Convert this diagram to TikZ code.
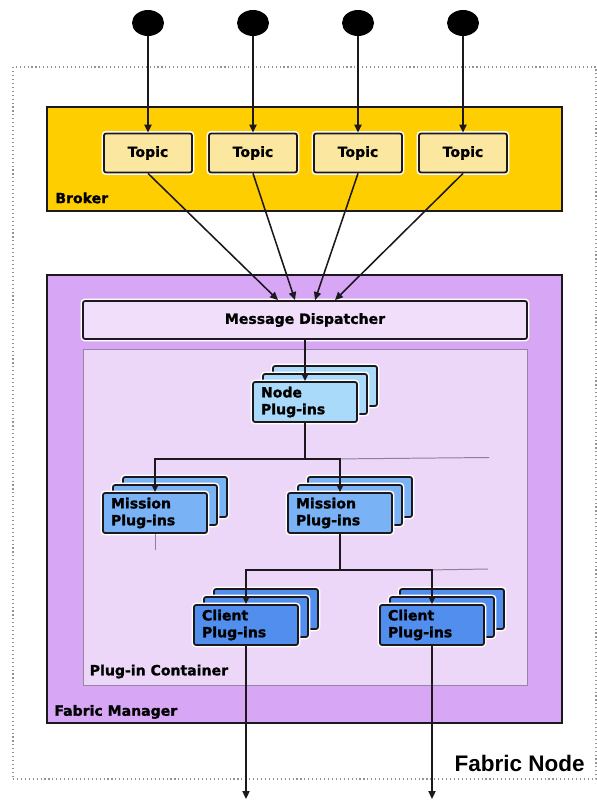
\documentclass[tikz,border=0pt]{standalone}
\usepackage{fontspec}
\setmainfont[BoldFeatures={FakeBold=1.2}]{DejaVu Sans}
\newfontfamily\titlefont{Liberation Sans}
\usetikzlibrary{positioning, calc, shapes.geometric, arrows.meta}

\newlength{\pxl}
\setlength{\pxl}{0.025cm}

\definecolor{boxline}{RGB}{28,24,30}
\definecolor{brokeryellow}{RGB}{255,206,0}
\definecolor{topicfill}{RGB}{252,231,160}
\definecolor{fmpurple}{RGB}{215,167,245}
\definecolor{dispfill}{RGB}{240,222,250}
\definecolor{contfill}{RGB}{236,215,248}
\definecolor{contline}{RGB}{150,135,160}
\definecolor{nodeblue}{RGB}{170,218,250}
\definecolor{missionblue}{RGB}{122,178,246}
\definecolor{clientblue}{RGB}{82,142,238}
\definecolor{ghostline}{RGB}{140,130,150}

\tikzset{
  txt/.style={font=\bfseries\fontsize{10}{12}\selectfont},
  halo/.style={preaction={draw=white, line width=3.4pt}},
  frame/.style={draw=boxline, line width=1.3pt, inner sep=0pt},
  topicbox/.style={frame, halo, fill=topicfill, rounded corners=1.5pt, txt,
    minimum width=88\pxl, minimum height=39\pxl},
  plug/.style={frame, halo, rounded corners=1.5pt, txt, align=left,
    minimum width=104\pxl, minimum height=40\pxl, text width=88\pxl},
  src/.style={ellipse, fill=black, inner sep=0pt,
    minimum width=32\pxl, minimum height=26\pxl},
  lbl/.style={txt, inner sep=0pt, anchor=west},
  arr/.style={draw=boxline, line width=1.1pt, -{Triangle[length=2mm, width=1.8mm]}},
  line/.style={draw=boxline, line width=1.1pt},
  ghost/.style={draw=ghostline, line width=0.7pt}
}

\begin{document}
\begin{tikzpicture}[x=0.025cm, y=-0.025cm]
    \useasboundingbox (0,0) rectangle (597,801);

    %Fabric node
    \node[draw=gray!85, dotted, line width=0.8pt, minimum width=583\pxl, minimum height=712\pxl] (fnode) at (304.5,423) {};
    \node[anchor=east, inner sep=0pt, font=\titlefont\bfseries\fontsize{16}{18}\selectfont] (fnodelbl) at (585,763) {Fabric Node};

    %Broker
    \node[frame, fill=brokeryellow, minimum width=515\pxl, minimum height=104\pxl] (broker) at (304.5,159) {};
    \node[lbl] (brokerlbl) at ($(broker.south west)+(9,-14)$) {Broker};

    %Fabric manager
    \node[frame, fill=fmpurple, minimum width=515\pxl, minimum height=448\pxl] (fm) at (304.5,499) {};
    \node[lbl] (fmlbl) at ($(fm.south west)+(8,-12)$) {Fabric Manager};
    \node[frame, halo, fill=dispfill, rounded corners=1.5pt, txt, minimum width=444\pxl, minimum height=38\pxl] (disp) at (305,320) {Message Dispatcher};
    \node[draw=contline, line width=0.7pt, fill=contfill, minimum width=444\pxl, minimum height=336\pxl] (cont) at (305,517) {};
    \node[lbl] (contlbl) at ($(cont.south west)+(7,-14)$) {Plug-in Container};

    %Topics
    \foreach \i/\x in {1/148, 2/253, 3/358, 4/463} {
        \node[src] (src\i) at (\x,23) {};
        \node[topicbox] (topic\i) at (\x,153) {Topic};
        \draw[arr] (src\i) -- (topic\i);
    }
    \foreach \i/\dx in {1/-27, 2/-10, 3/10, 4/30}
        \draw[arr] (topic\i.south) -- ($(disp.north)+(\dx,0)$);

    %Plug-in stacks
    \foreach \k in {2,1} {
        \node[plug, fill=nodeblue] at ($(305,402)+(10*\k,-8*\k)$) {};
        \node[plug, fill=missionblue] at ($(155,513)+(10*\k,-8*\k)$) {};
        \node[plug, fill=missionblue] at ($(340,513)+(10*\k,-8*\k)$) {};
        \node[plug, fill=clientblue] at ($(246,625)+(10*\k,-8*\k)$) {};
        \node[plug, fill=clientblue] at ($(432,625)+(10*\k,-8*\k)$) {};
    }
    \node[plug, fill=nodeblue] (nodepl) at (305,402) {Node\\Plug-ins};
    \node[plug, fill=missionblue] (mission1) at (155,513) {Mission\\Plug-ins};
    \node[plug, fill=missionblue] (mission2) at (340,513) {Mission\\Plug-ins};
    \node[plug, fill=clientblue] (client1) at (246,625) {Client\\Plug-ins};
    \node[plug, fill=clientblue] (client2) at (432,625) {Client\\Plug-ins};

    %Lines
    \coordinate (split1) at ($(nodepl.south)+(0,36)$);
    \coordinate (split2) at ($(mission2.south)+(0,36)$);
    \coordinate (ghost1) at (489,457.5);
    \coordinate (ghost2) at (488,569);
    \coordinate (ghost3) at (155,550);
    \coordinate (bottom) at (0,799);
    \coordinate (out1) at (client1.south |- bottom);
    \coordinate (out2) at (client2.south |- bottom);

    \draw[ghost] (split1 -| mission2) -- (ghost1);
    \draw[ghost] (split2 -| client2) -- (ghost2);
    \draw[ghost] (mission1.south) -- (ghost3);

    \draw[arr] (disp.south) -- (nodepl.north);
    \draw[line] (nodepl.south) -- (split1);
    \draw[arr] (split1) -| (mission1.north);
    \draw[arr] (split1) -| (mission2.north);
    \draw[line] (mission2.south) -- (split2);
    \draw[arr] (split2) -| (client1.north);
    \draw[arr] (split2) -| (client2.north);
    \draw[arr] (client1.south) -- (out1);
    \draw[arr] (client2.south) -- (out2);
\end{tikzpicture}
\end{document}
